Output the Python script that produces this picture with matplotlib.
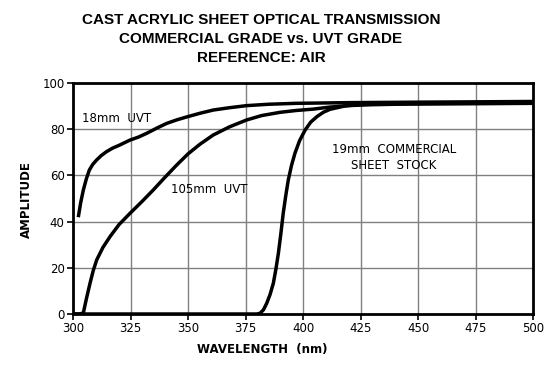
import matplotlib
matplotlib.use("Agg")
import matplotlib.pyplot as plt
import numpy as np

uvt18_x = [302.3, 303.3, 304.5, 305.8, 307.1, 308.6, 310.3, 312.3, 314.6, 317.2, 320, 324.8, 328.5, 332, 336.5, 340.7, 345, 349.4, 355.2, 361, 368, 375.5, 385, 397, 420, 450, 500]
uvt18_y = [41.9, 48.0, 53.7, 58.5, 62.3, 64.8, 66.7, 68.6, 70.3, 71.8, 73.0, 75.3, 76.6, 78.2, 80.5, 82.5, 84.0, 85.3, 86.9, 88.3, 89.3, 90.2, 90.8, 91.2, 91.5, 91.7, 92.0]

uvt105_x = [300, 303, 304.5, 305.8, 307.4, 308.8, 310.3, 313, 316.1, 320, 324.8, 330, 334.9, 340, 345.1, 350, 355.2, 361, 368, 375.5, 382, 390, 397, 404.5, 411, 419, 430, 440, 470, 500]
uvt105_y = [0, 0, 0.5, 6.5, 13.3, 18.8, 23.4, 28.8, 33.5, 38.7, 43.6, 48.7, 53.7, 59.2, 64.5, 69.3, 73.5, 77.5, 81.0, 84.0, 85.9, 87.3, 88.1, 88.7, 89.5, 90.2, 90.6, 90.8, 91.0, 91.2]

com19_x = [300, 380, 381.3, 382.8, 384.2, 385.7, 387.1, 388.2, 389.3, 390.4, 391.4, 392.5, 393.6, 395, 396.5, 398.5, 400.9, 403.3, 406, 408.8, 411.7, 418, 424.8, 440, 470, 500]
com19_y = [0, 0, 0.3, 1.8, 4.6, 8.5, 13.3, 19.3, 26.3, 35.0, 43.6, 51.2, 58.0, 64.3, 69.6, 75.0, 79.6, 83.0, 85.4, 87.3, 88.6, 90.0, 90.8, 91.2, 91.3, 91.4]

x_ticks = [300, 325, 350, 375, 400, 425, 450, 475, 500]
y_ticks = [0, 20, 40, 60, 80, 100]

fig = plt.figure(figsize=(5.6, 3.74), dpi=100)
ax = fig.add_axes([73/560, 1-314/374, (533-73)/560, (314-83)/374])

for xs, ys in [(uvt18_x, uvt18_y), (uvt105_x, uvt105_y), (com19_x, com19_y)]:
    ax.plot(xs, ys, color="black", lw=2.5, solid_capstyle="butt", solid_joinstyle="round", zorder=3)

ax.set_xlim(300, 500)
ax.set_ylim(0, 100)
ax.set_xticks(x_ticks)
ax.set_yticks(y_ticks)
ax.grid(True, color="#808080", lw=1.0)
ax.set_axisbelow(True)
for s in ax.spines.values():
    s.set_linewidth(2)
    s.set_color("black")
ax.tick_params(direction="out", length=4, width=1.2, labelsize=8.5, colors="black", pad=2)

title_font = dict(family=["Liberation Sans", "DejaVu Sans"], weight="bold", fontsize=11)
fig.text(261/560, 1-20.5/374, "CAST ACRYLIC SHEET OPTICAL TRANSMISSION", ha="center", va="center", **title_font)
fig.text(261/560, 1-39.3/374, "COMMERCIAL GRADE vs. UVT GRADE", ha="center", va="center", **title_font)
fig.text(261/560, 1-58.3/374, "REFERENCE: AIR", ha="center", va="center", **title_font)

fig.text(262/560, 1-350/374, "WAVELENGTH  (nm)", ha="center", va="center", fontsize=8.5, weight="bold")
fig.text(26/560, 1-200/374, "AMPLITUDE", ha="center", va="center", rotation=90, fontsize=8.5, weight="bold")

ax.text(303.8, 84.6, "18mm  UVT", ha="left", va="center", fontsize=8.5)
ax.text(359.3, 54.0, "105mm  UVT", ha="center", va="center", fontsize=8.5)
ax.text(439.6, 71.4, "19mm  COMMERCIAL", ha="center", va="center", fontsize=8.5)
ax.text(439.6, 64.5, "SHEET  STOCK", ha="center", va="center", fontsize=8.5)

fig.savefig("out.png", dpi=100)
